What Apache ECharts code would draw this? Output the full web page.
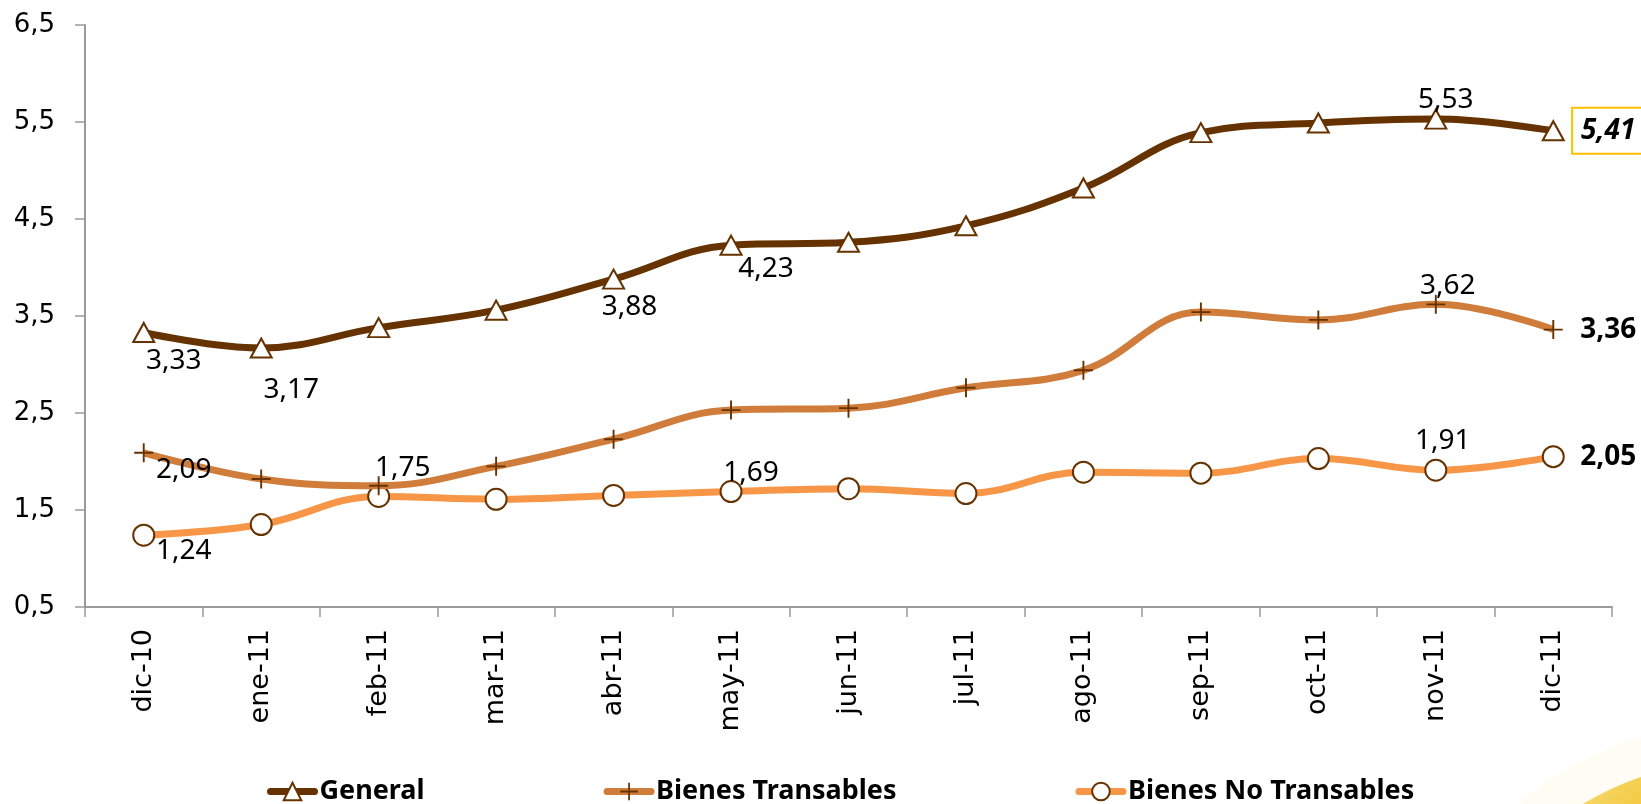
<!DOCTYPE html>
<html>
<head>
<meta charset="utf-8">
<script src="https://cdn.jsdelivr.net/npm/echarts@6/dist/echarts.min.js"></script>
<style>
  html, body { margin: 0; padding: 0; background: #fff; }
  #chart { width: 1641px; height: 804px; }
</style>
</head>
<body>
<div id="chart"></div>
<script>
var months = ['dic-10', 'ene-11', 'feb-11', 'mar-11', 'abr-11', 'may-11', 'jun-11',
  'jul-11', 'ago-11', 'sep-11', 'oct-11', 'nov-11', 'dic-11'];
var general = [3.33, 3.17, 3.38, 3.56, 3.88, 4.23, 4.26, 4.43, 4.82, 5.39, 5.49, 5.53, 5.41];
var transables = [2.09, 1.82, 1.75, 1.95, 2.23, 2.53, 2.55, 2.76, 2.94, 3.54, 3.46, 3.62, 3.36];
var noTransables = [1.24, 1.35, 1.64, 1.61, 1.65, 1.69, 1.72, 1.67, 1.89, 1.88, 2.03, 1.91, 2.05];
var yTicks = [0.5, 1.5, 2.5, 3.5, 4.5, 5.5, 6.5];

// where the value labels sit relative to their point (px)
var generalSpots = { 0: [30, 29], 1: [30, 42], 4: [16, 28], 5: [35, 24], 11: [10, -19] };
var transSpots = { 0: [40, 17], 2: [24, -18], 11: [12, -18] };
var noTransSpots = { 0: [40, 16], 5: [20, -19], 11: [7, -29] };

function fmt(v) {
  return v.toFixed(2).replace('.', ',');
}

function buildData(values, spots, lastLabel) {
  return values.map(function (v, i) {
    if (i === values.length - 1) {
      return {
        value: v,
        label: Object.assign({
          show: true, position: 'inside', offset: [55, 0],
          fontWeight: 'bold', fontSize: 28
        }, lastLabel || {})
      };
    }
    if (!spots[i]) return v;
    return { value: v, label: { show: true, position: 'inside', offset: spots[i] } };
  });
}

var plusPath = 'path://M9,0h2v9h9v2h-9v9h-2v-9h-9v-2h9z';
var labelBase = {
  show: false,
  color: '#000',
  fontFamily: 'Noto Sans',
  fontSize: 28,
  formatter: function (p) { return fmt(p.value); }
};

var chart = echarts.init(document.getElementById('chart'));
var option = {
  backgroundColor: '#fff',
  animation: false,
  grid: { left: 85, right: 29, top: 25, bottom: 197, containLabel: false, outerBoundsMode: 'none' },
  graphic: [{
    type: 'circle',
    shape: { cx: 1738, cy: 1063, r: 340 },
    silent: true,
    z: -2,
    style: { fill: 'rgba(255, 245, 200, 0.22)' }
  }, {
    type: 'circle',
    shape: { cx: 1738, cy: 1063, r: 302 },
    silent: true,
    z: -1,
    style: {
      fill: new echarts.graphic.LinearGradient(0, 0, 1, 1, [
        { offset: 0, color: 'rgba(250, 220, 110, 0.4)' },
        { offset: 0.2, color: '#F3CB45' },
        { offset: 1, color: '#EDBC1E' }
      ])
    }
  }],
  legend: {
    bottom: -6,
    left: 262,
    itemWidth: 44,
    itemHeight: 22,
    itemGap: 179,
    lineStyle: { width: 7, cap: 'round' },
    textStyle: { fontFamily: 'Noto Sans', fontWeight: 'bold', fontSize: 27, color: '#000' },
    data: ['General', 'Bienes Transables', 'Bienes No Transables']
  },
  xAxis: {
    type: 'category',
    data: months,
    boundaryGap: true,
    axisLine: { lineStyle: { color: '#9a9a9a', width: 2 } },
    axisTick: { show: true, length: 10, lineStyle: { color: '#9a9a9a', width: 1.5 } },
    axisLabel: {
      rotate: 90,
      margin: 22,
      color: '#000',
      fontFamily: 'DejaVu Sans',
      fontSize: 27
    },
    splitLine: { show: false }
  },
  yAxis: {
    type: 'value',
    min: yTicks[0],
    max: yTicks[yTicks.length - 1],
    interval: 1,
    axisLine: { show: true, lineStyle: { color: '#9a9a9a', width: 2 } },
    axisTick: { show: true, length: 10, lineStyle: { color: '#9a9a9a', width: 1.5 } },
    axisLabel: {
      margin: 30,
      color: '#000',
      fontFamily: 'DejaVu Sans',
      fontSize: 26,
      formatter: function (v) { return v.toFixed(1).replace('.', ','); }
    },
    splitLine: { show: false }
  },
  series: [
    {
      name: 'General',
      type: 'line',
      smooth: 0.4,
      symbol: 'triangle',
      symbolSize: [21, 19],
      z: 4,
      lineStyle: { color: '#663300', width: 7 },
      itemStyle: { color: '#fff', borderColor: '#663300', borderWidth: 2 },
      label: labelBase,
      data: buildData(general, generalSpots, {
        fontStyle: 'italic',
        backgroundColor: '#fff',
        borderColor: '#FFC000',
        borderWidth: 2,
        padding: [8, 8]
      })
    },
    {
      name: 'Bienes Transables',
      type: 'line',
      smooth: 0.4,
      symbol: plusPath,
      symbolSize: 19,
      z: 3,
      lineStyle: { color: '#D07C3A', width: 7 },
      itemStyle: { color: '#663300', borderWidth: 0 },
      label: labelBase,
      data: buildData(transables, transSpots)
    },
    {
      name: 'Bienes No Transables',
      type: 'line',
      smooth: 0.4,
      symbol: 'circle',
      symbolSize: 21,
      z: 2,
      lineStyle: { color: '#F79646', width: 7 },
      itemStyle: { color: '#fff', borderColor: '#663300', borderWidth: 2 },
      label: labelBase,
      data: buildData(noTransables, noTransSpots)
    }
  ]
};
chart.setOption(option);
</script>
</body>
</html>
